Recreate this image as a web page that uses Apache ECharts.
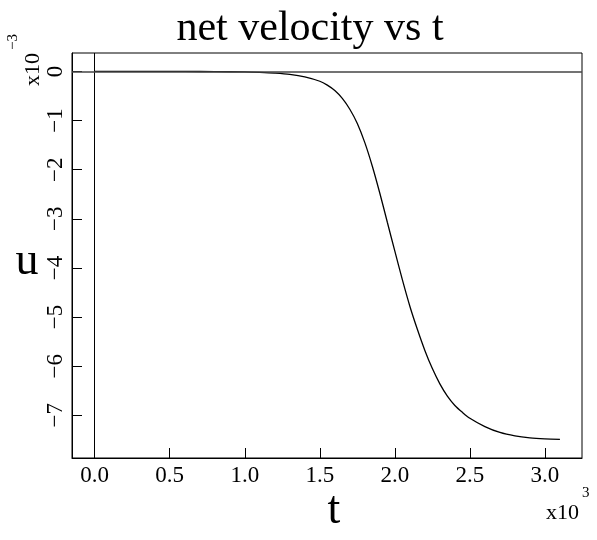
<!DOCTYPE html>
<html>
<head>
<meta charset="utf-8">
<script src="https://cdn.jsdelivr.net/npm/echarts@6/dist/echarts.min.js"></script>
<style>html,body{margin:0;padding:0;background:#fff}#c{width:597px;height:540px}</style>
</head>
<body>
<div id="c"></div>
<script>
// t in units of 10^3, u in units of 10^-3
var tValues = [0.0, 0.2, 0.4, 0.6, 0.8, 1.0, 1.1, 1.2, 1.3, 1.4, 1.5, 1.55, 1.6, 1.65, 1.7, 1.75, 1.8, 1.85, 1.9, 1.95, 2.0, 2.05, 2.1, 2.15, 2.2, 2.25, 2.3, 2.35, 2.4, 2.45, 2.5, 2.6, 2.7, 2.8, 2.9, 3.0, 3.1];
var uValues = [0, 0, 0, 0, -0.005, -0.01, -0.02, -0.035, -0.06, -0.11, -0.2, -0.28, -0.39, -0.55, -0.77, -1.06, -1.45, -1.93, -2.48, -3.07, -3.66, -4.24, -4.78, -5.25, -5.68, -6.05, -6.36, -6.61, -6.8, -6.94, -7.06, -7.23, -7.35, -7.42, -7.46, -7.48, -7.49];
var xTicks = [0, 0.5, 1.0, 1.5, 2.0, 2.5, 3.0];
var yTicks = [-7, -6, -5, -4, -3, -2, -1, 0];
var titleText = 'net velocity vs t';
var xName = 't';
var yName = 'u';
var xExp = '3';
var yExp = '\u22123';

var FONT = '"Liberation Serif", "DejaVu Serif", serif';
var data = tValues.map(function (t, i) { return [t, uValues[i]]; });

var expRich = {
  b: {fontFamily: FONT, fontSize: 22, color: '#000', verticalAlign: 'bottom', padding: [16, 0, 0, 0]},
  s: {fontFamily: FONT, fontSize: 15, color: '#000', verticalAlign: 'top', padding: [0, 0, 16, 3]}
};

var chart = echarts.init(document.getElementById('c'), null, {renderer: 'canvas'});
chart.setOption({
  animation: false,
  backgroundColor: '#fff',
  grid: {left: 72, top: 53, right: 15, bottom: 82, outerBoundsMode: 'none', containLabel: false,
    show: true, borderColor: '#000', borderWidth: 1, backgroundColor: 'transparent'},
  xAxis: {
    type: 'value', min: -0.151, max: 3.247,
    splitLine: {show: false},
    axisLine: {show: true, onZero: false, lineStyle: {color: '#000', width: 1}},
    axisTick: {show: true, inside: true, length: 10, customValues: xTicks, lineStyle: {color: '#000'}},
    axisLabel: {customValues: xTicks, margin: 6, fontFamily: FONT, fontSize: 23, color: '#000',
      formatter: function (v) { return v.toFixed(1); }}
  },
  yAxis: {
    type: 'value', min: -7.87, max: 0.375,
    splitLine: {show: false},
    axisLine: {show: true, onZero: false, lineStyle: {color: '#000', width: 1}},
    axisTick: {show: true, inside: true, length: 10, customValues: yTicks, lineStyle: {color: '#000'}},
    axisLabel: {customValues: yTicks, rotate: 90, margin: 5, fontFamily: FONT, fontSize: 23, color: '#000',
      formatter: function (v) { return v < 0 ? '\u2212' + Math.abs(v) : String(v); }}
  },
  graphic: [
    {type: 'text', x: 310, y: 29, style: {text: titleText, fontFamily: FONT, fontSize: 42, fill: '#000', textAlign: 'center', textVerticalAlign: 'middle'}},
    {type: 'text', x: 334, y: 511, style: {text: xName, fontFamily: FONT, fontSize: 46, fill: '#000', textAlign: 'center', textVerticalAlign: 'middle'}},
    {type: 'text', x: 27, y: 262, style: {text: yName, fontFamily: FONT, fontSize: 46, fill: '#000', textAlign: 'center', textVerticalAlign: 'middle'}},
    {type: 'text', x: 546, y: 486, style: {text: '{b|x10}{s|' + xExp + '}', rich: expRich}},
    {type: 'text', x: 6, y: 86, rotation: Math.PI / 2, style: {text: '{b|x10}{s|' + yExp + '}', rich: expRich}}
  ],
  series: [{
    type: 'line', data: data, showSymbol: false, symbol: 'none',
    smooth: 0.3,
    lineStyle: {color: '#000', width: 1.3},
    markLine: {
      silent: true, symbol: 'none', label: {show: false},
      lineStyle: {color: '#000', width: 1, type: 'solid'},
      data: [{xAxis: 0}, {yAxis: 0, lineStyle: {color: '#444', width: 1.5}}]
    }
  }]
});
</script>
</body>
</html>
